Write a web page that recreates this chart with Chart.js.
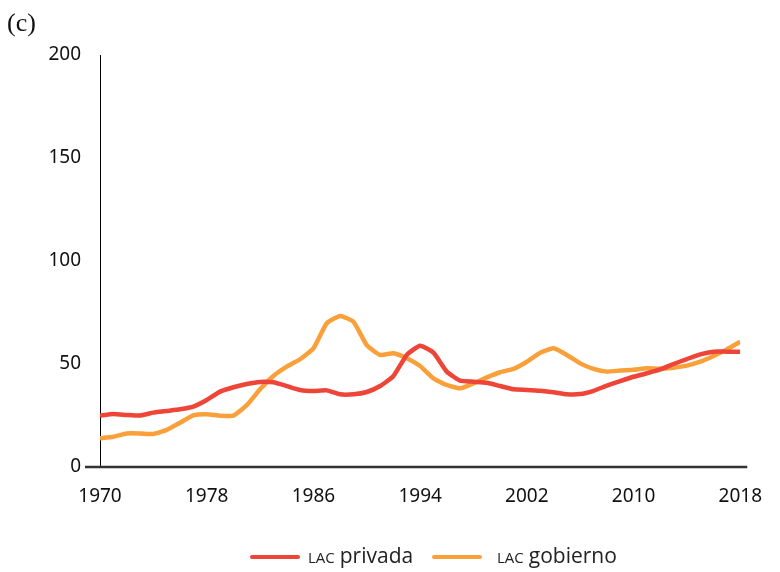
<!DOCTYPE html>
<html>
<head>
<meta charset="utf-8">
<script src="https://cdn.jsdelivr.net/npm/chart.js@4.4.1/dist/chart.umd.min.js"></script>
<style>
  html, body { margin: 0; padding: 0; background: #fff; }
  #wrap { width: 780px; height: 572px; position: relative; }
</style>
</head>
<body>
<div id="wrap"><canvas id="myChart" width="780" height="572"></canvas></div>
<script>
// years 1970 - 2018
var years = [];
for (let y = 1970; y <= 2018; y++) years.push(y);

var privada = [25.0, 25.7, 25.3, 25.0, 26.4, 27.2, 28.0, 29.3, 32.5, 36.6,
  38.7, 40.3, 41.3, 41.1, 39.3, 37.4, 36.9, 37.2, 35.3, 35.3,
  36.4, 39.3, 44.2, 54.4, 58.9, 55.5, 46.3, 41.9, 41.4, 40.9,
  39.3, 37.7, 37.4, 37.0, 36.3, 35.3, 35.4, 37.0, 39.5, 41.7,
  43.8, 45.5, 47.4, 50.0, 52.4, 54.7, 56.0, 56.0, 56.0];

var gobierno = [13.9, 14.7, 16.3, 16.3, 16.0, 18.0, 21.5, 25.1, 25.6, 24.9,
  24.9, 30.0, 37.7, 44.2, 48.7, 52.3, 57.6, 69.8, 73.3, 70.5,
  59.2, 54.4, 55.2, 52.8, 49.0, 43.0, 39.8, 38.2, 40.6, 43.5,
  46.0, 47.6, 51.1, 55.5, 57.6, 54.4, 50.3, 47.6, 46.3, 46.8,
  47.2, 47.9, 47.7, 48.2, 49.2, 51.1, 53.9, 57.1, 60.8];

var seriesNames = ["privada", "gobierno"];
var seriesColors = ["#ef4438", "#f9a03a"];
var yTicks = [0, 50, 100, 150, 200];
var xTicks = [1970, 1978, 1986, 1994, 2002, 2010, 2018];

function toPoints(vals) {
  return vals.map((v, i) => ({ x: years[i], y: v }));
}

var extras = {
  id: 'extras',
  afterDraw(chart) {
    var ctx = chart.ctx;
    var a = chart.chartArea;
    ctx.save();
    // x axis line, runs a bit past both ends
    ctx.strokeStyle = '#333';
    ctx.lineWidth = 2.5;
    ctx.beginPath();
    ctx.moveTo(a.left - 15, a.bottom);
    ctx.lineTo(a.right + 7, a.bottom);
    ctx.stroke();

    // panel letter
    ctx.fillStyle = '#111';
    ctx.font = '26px "Liberation Serif"';
    ctx.textBaseline = 'alphabetic';
    ctx.textAlign = 'left';
    ctx.fillText('(c)', 7, 31);

    // legend
    var ly = 557;
    var items = [{ x: 250, gap: 58, name: seriesNames[0], c: seriesColors[0] },
                 { x: 432, gap: 65, name: seriesNames[1], c: seriesColors[1] }];
    items.forEach(it => {
      ctx.strokeStyle = it.c;
      ctx.lineWidth = 4;
      ctx.lineCap = 'round';
      ctx.beginPath();
      ctx.moveTo(it.x + 2, ly);
      ctx.lineTo(it.x + 48, ly);
      ctx.stroke();
      ctx.fillStyle = '#222';
      ctx.font = '15px "Open Sans"';
      ctx.textBaseline = 'alphabetic';
      var tx = it.x + it.gap;
      ctx.fillText('LAC', tx, ly + 6);
      tx += ctx.measureText('LAC').width + 5;
      ctx.font = '21px "Open Sans"';
      ctx.fillText(it.name, tx, ly + 6);
    });
    ctx.restore();
  }
};

new Chart("myChart", {
  type: "line",
  data: {
    datasets: [{
      label: "LAC privada",
      data: toPoints(privada),
      borderColor: seriesColors[0],
      borderWidth: 4.5,
      pointRadius: 0,
      tension: 0.15,
      fill: false
    }, {
      label: "LAC gobierno",
      data: toPoints(gobierno),
      borderColor: seriesColors[1],
      borderWidth: 4.5,
      pointRadius: 0,
      tension: 0.15,
      fill: false
    }]
  },
  options: {
    responsive: false,
    animation: false,
    layout: { padding: { left: 0, right: 32, top: 55, bottom: 60 } },
    plugins: {
      legend: { display: false },
      tooltip: { enabled: false }
    },
    scales: {
      x: {
        type: 'linear',
        min: 1970,
        max: 2018,
        afterFit: s => { s.height = 45; },
        afterBuildTicks: s => { s.ticks = xTicks.map(v => ({ value: v })); },
        grid: { display: false, drawTicks: false },
        border: { display: false },
        ticks: {
          padding: 18,
          color: '#111',
          font: { family: 'Noto Sans', size: 19 },
          callback: v => String(v),
          maxRotation: 0
        }
      },
      y: {
        min: 0,
        max: 200,
        afterFit: s => { s.width = 100; },
        afterBuildTicks: s => { s.ticks = yTicks.map(v => ({ value: v })); },
        grid: { display: false, drawTicks: false },
        border: { display: true, color: '#000', width: 1 },
        ticks: {
          padding: 19,
          color: '#111',
          font: { family: 'Noto Sans', size: 19 }
        }
      }
    }
  },
  plugins: [extras]
});
</script>
</body>
</html>
